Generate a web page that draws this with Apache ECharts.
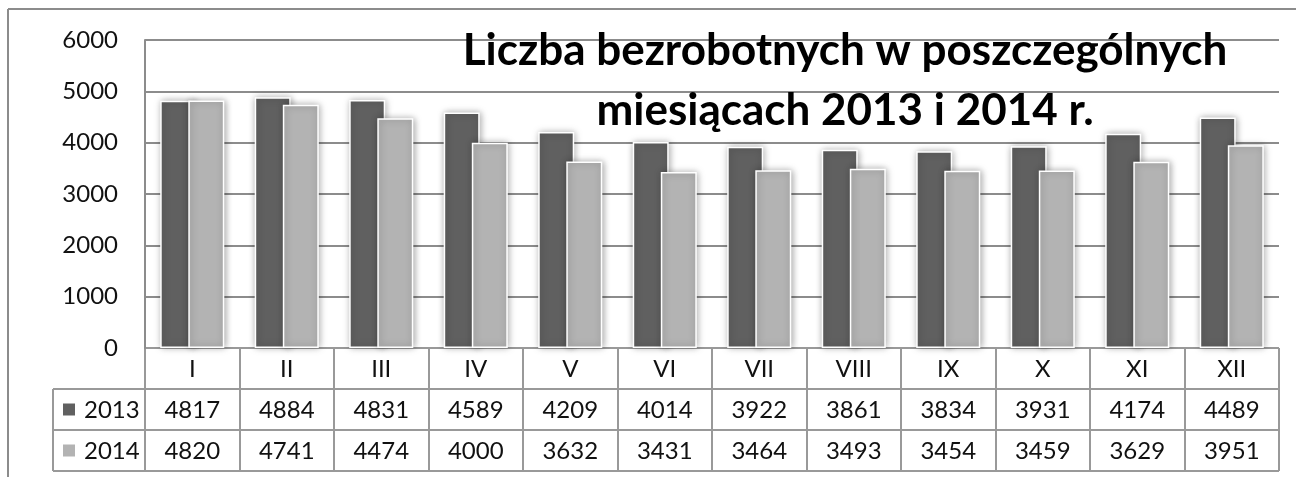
<!DOCTYPE html>
<html>
<head>
<meta charset="utf-8">
<script src="https://cdn.jsdelivr.net/npm/echarts@6/dist/echarts.min.js"></script>
<style>
  html, body { margin: 0; padding: 0; background: #fff; }
  #main { width: 1296px; height: 477px; }
</style>
</head>
<body>
<div id="main"></div>
<script>
var months = ["I", "II", "III", "IV", "V", "VI", "VII", "VIII", "IX", "X", "XI", "XII"];
var years = ["2013", "2014"];
var values2013 = [4817, 4884, 4831, 4589, 4209, 4014, 3922, 3861, 3834, 3931, 4174, 4489];
var values2014 = [4820, 4741, 4474, 4000, 3632, 3431, 3464, 3493, 3454, 3459, 3629, 3951];
var yMin = 0, yMax = 6000, yStep = 1000;
var titleLines = ["Liczba bezrobotnych w poszczególnych", "miesiącach 2013 i 2014 r."];

var colors = ["#606060", "#b3b3b3"];
var FONT = "Lato, 'Open Sans', sans-serif";
var LINE = "#999999";

var chart = echarts.init(document.getElementById("main"));

function barStyle(c) {
  return {
    color: c,
    borderColor: "#ffffff",
    borderWidth: 1.5,
    shadowBlur: 7,
    shadowColor: "rgba(0,0,0,0.35)",
    shadowOffsetX: 1
  };
}

var option = {
  animation: false,
  grid: { left: 145, top: 40, right: 17, bottom: 129 },
  xAxis: {
    type: "category",
    data: months,
    axisLine: { show: false },
    axisTick: { show: false },
    axisLabel: { show: false }
  },
  yAxis: {
    type: "value",
    min: yMin,
    max: yMax,
    interval: yStep,
    axisLine: { show: true, lineStyle: { color: "#8c8c8c", width: 2 } },
    axisTick: { show: false },
    axisLabel: {
      color: "#111", fontSize: 24, fontFamily: FONT, margin: 27,
      formatter: function (v) { return String(v); }
    },
    splitLine: { lineStyle: { color: "#8c8c8c", width: 2 } }
  },
  series: [
    { name: years[0], type: "bar", data: values2013, barWidth: 36, barGap: "-22%", itemStyle: barStyle(colors[0]) },
    { name: years[1], type: "bar", data: values2014, barWidth: 36, barGap: "-22%", itemStyle: barStyle(colors[1]) }
  ]
};
chart.setOption(option);

// data table under the plot, placed from the category axis
var c0 = chart.convertToPixel({ xAxisIndex: 0 }, months[0]);
var c1 = chart.convertToPixel({ xAxisIndex: 0 }, months[1]);
var band = c1 - c0;
var tLeft = c0 - band / 2;
var tRight = tLeft + band * months.length;
var y0 = Math.round(chart.convertToPixel({ yAxisIndex: 0 }, 0));
var rowH = [41, 41, 41];
var legLeft = 53;
var rows = [months, values2013, values2014];
var g = [];

function hline(x1, x2, y) {
  g.push({ type: "line", shape: { x1: x1, y1: y, x2: x2, y2: y }, style: { stroke: LINE, lineWidth: 2 } });
}
function vline(x, y1, y2) {
  g.push({ type: "line", shape: { x1: x, y1: y1, x2: x, y2: y2 }, style: { stroke: LINE, lineWidth: 2 } });
}
function txt(s, x, y, extra) {
  var st = { text: String(s), x: x, y: y, align: "center", verticalAlign: "middle", fontSize: 24, fontFamily: FONT, fill: "#111" };
  for (var k in extra) st[k] = extra[k];
  g.push({ type: "text", style: st, z: 10 });
}

var yTop = y0, yRow1 = y0 + rowH[0], yRow2 = yRow1 + rowH[1], yEnd = yRow2 + rowH[2];
hline(tLeft, tRight, yTop);
hline(legLeft, tRight, yRow1);
hline(legLeft, tRight, yRow2);
hline(legLeft, tRight, yEnd);
vline(legLeft, yRow1, yEnd);
for (var i = 0; i <= months.length; i++) {
  vline(Math.round(tLeft + i * band), yTop, yEnd);
}
var rowY = [yTop, yRow1, yRow2];
for (var r = 0; r < rows.length; r++) {
  for (var j = 0; j < months.length; j++) {
    txt(rows[r][j], tLeft + band * (j + 0.5), rowY[r] + rowH[r] / 2 + 1);
  }
}
for (var s = 0; s < years.length; s++) {
  var cy = rowY[s + 1] + rowH[s + 1] / 2;
  g.push({ type: "rect", shape: { x: 63, y: cy - 6, width: 12, height: 12 }, style: { fill: colors[s] } });
  txt(years[s], 84, cy + 1, { align: "left" });
}

// outer frame (left and top edges)
g.push({ type: "line", shape: { x1: 8, y1: 9, x2: 1296, y2: 9 }, style: { stroke: "#8c8c8c", lineWidth: 2 } });
g.push({ type: "line", shape: { x1: 8, y1: 9, x2: 8, y2: 477 }, style: { stroke: "#8c8c8c", lineWidth: 2 } });

// title
g.push({
  type: "text",
  z: 20,
  style: {
    text: titleLines.join("\n"),
    x: 845, y: 81,
    align: "center", verticalAlign: "middle",
    fontSize: 44, fontWeight: "bold", fontFamily: FONT,
    lineHeight: 60, fill: "#000"
  }
});

chart.setOption({ graphic: { elements: g } });
</script>
</body>
</html>
